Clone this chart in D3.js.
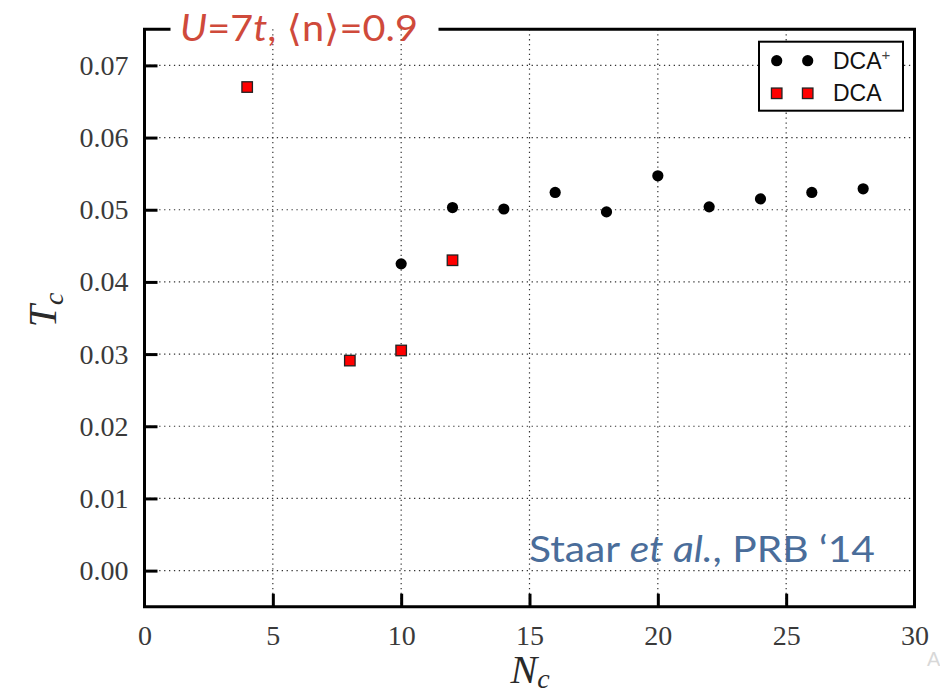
<!DOCTYPE html>
<html>
<head>
<meta charset="utf-8">
<script src="https://cdn.jsdelivr.net/npm/d3@7"></script>
<style>
  html, body { margin: 0; padding: 0; background: #fff; }
  svg { display: block; }
</style>
</head>
<body>
<div id="chart"></div>
<script>
// ---- data ----
const dcaPlusN = [10, 12, 14, 16, 18, 20, 22, 24, 26, 28];
const dcaPlusTc = [0.0425, 0.0503, 0.0501, 0.0524, 0.0497, 0.0547, 0.0504, 0.0515, 0.0524, 0.0529];
const dcaN = [4, 8, 10, 12];
const dcaTc = [0.0670, 0.0291, 0.0305, 0.0430];
const xTicks = [0, 5, 10, 15, 20, 25, 30];
const yTicks = [0.00, 0.01, 0.02, 0.03, 0.04, 0.05, 0.06, 0.07];
const xGrid = [5, 10, 15, 20, 25];
const seriesNames = ["DCA", "DCA+"];

const W = 940, H = 693;
const svg = d3.select("#chart").append("svg").attr("width", W).attr("height", H);

const pLeft = 144.5, pRight = 914.5, pTop = 29.3, pBottom = 606.7;
const x = d3.scaleLinear().domain([0, 30]).range([pLeft, pRight]);
const y = d3.scaleLinear().domain([-0.005, 0.075]).range([pBottom, pTop]);

// grid
const grid = svg.append("g").attr("stroke", "#333").attr("stroke-width", 1.2)
  .attr("stroke-dasharray", "1.3,3.6");
grid.selectAll("line.h").data(yTicks).join("line").attr("class", "h")
  .attr("x1", pLeft).attr("x2", pRight).attr("y1", d => y(d)).attr("y2", d => y(d));
grid.selectAll("line.v").data(xGrid).join("line").attr("class", "v")
  .attr("y1", pTop).attr("y2", pBottom).attr("x1", d => x(d)).attr("x2", d => x(d));

// axes
const tickFont = "'Liberation Serif', 'DejaVu Serif', serif";
const xAxis = svg.append("g").attr("transform", `translate(0,${pBottom})`)
  .call(d3.axisBottom(x).tickValues(xTicks).tickFormat(d3.format("d")).tickSize(-13).tickPadding(18));
const yAxis = svg.append("g").attr("transform", `translate(${pLeft},0)`)
  .call(d3.axisLeft(y).tickValues(yTicks).tickFormat(d3.format(".2f")).tickSize(-13).tickPadding(16));
[xAxis, yAxis].forEach(a => {
  a.select(".domain").remove();
  a.selectAll(".tick line").attr("stroke", "#000").attr("stroke-width", 3);
  a.selectAll(".tick text").attr("font-family", tickFont).attr("font-size", 28).attr("fill", "#3a3a3a");
});
xAxis.selectAll(".tick").filter(d => d === 0 || d === 30).select("line").remove();

// frame
const frame = svg.append("g").attr("stroke", "#000").attr("stroke-width", 3).attr("fill", "none").attr("stroke-linecap", "square");
frame.append("path").attr("d", `M169,${pTop} L${pLeft},${pTop} L${pLeft},${pBottom} L${pRight},${pBottom} L${pRight},${pTop} L440,${pTop}`);

// data points
svg.append("g").selectAll("circle").data(dcaPlusN).join("circle")
  .attr("cx", d => x(d)).attr("cy", (d, i) => y(dcaPlusTc[i])).attr("r", 5.6).attr("fill", "#000");
const s = 10.5;
svg.append("g").selectAll("rect").data(dcaN).join("rect")
  .attr("x", d => x(d) - s / 2).attr("y", (d, i) => y(dcaTc[i]) - s / 2)
  .attr("width", s).attr("height", s).attr("fill", "#ff0000").attr("stroke", "#222").attr("stroke-width", 1.3);

// legend
const lg = svg.append("g");
lg.append("rect").attr("x", 759).attr("y", 41.7).attr("width", 144).attr("height", 69)
  .attr("fill", "#fff").attr("stroke", "#000").attr("stroke-width", 2);
[776.7, 807.7].forEach(cx => {
  lg.append("circle").attr("cx", cx).attr("cy", 60.7).attr("r", 5.6).attr("fill", "#000");
  lg.append("rect").attr("x", cx - s / 2).attr("y", 93.3 - s / 2).attr("width", s).attr("height", s)
    .attr("fill", "#ff0000").attr("stroke", "#222").attr("stroke-width", 1.3);
});
const t1 = lg.append("text").attr("x", 833).attr("y", 68.5).attr("font-family", "'Liberation Sans', Arial, sans-serif")
  .attr("font-size", 23).attr("fill", "#111");
t1.append("tspan").text("DCA");
t1.append("tspan").text("+").attr("font-size", 15).attr("dy", -9).attr("fill", "#444");
lg.append("text").attr("x", 833).attr("y", 101).attr("font-family", "'Liberation Sans', Arial, sans-serif")
  .attr("font-size", 23).attr("fill", "#111").text(seriesNames[0]);

// axis titles
const tt = svg.append("text").attr("transform", "translate(56,310) rotate(-90)").attr("text-anchor", "middle")
  .attr("font-family", tickFont).attr("font-style", "italic").attr("font-size", 40).attr("fill", "#2a2a2a");
tt.append("tspan").text("T");
tt.append("tspan").text("c").attr("font-size", 28).attr("dy", 7);
const nt = svg.append("text").attr("x", 530).attr("y", 683).attr("text-anchor", "middle")
  .attr("font-family", tickFont).attr("font-style", "italic").attr("font-size", 40).attr("fill", "#2a2a2a");
nt.append("tspan").text("N");
nt.append("tspan").text("c").attr("font-size", 28).attr("dy", 5);

// title
const sansFont = "Lato, 'Open Sans', 'DejaVu Sans', sans-serif";
const title = svg.append("text").attr("x", 180).attr("y", 41).attr("font-family", sansFont)
  .attr("font-size", 37).attr("fill", "#cf4a3b").attr("textLength", 238).attr("lengthAdjust", "spacingAndGlyphs");
title.append("tspan").text("U").attr("font-style", "italic");
title.append("tspan").text("=7");
title.append("tspan").text("t").attr("font-style", "italic");
title.append("tspan").text(", \u27E8n\u27E9=0.9");

// citation
const cit = svg.append("text").attr("x", 529).attr("y", 562).attr("font-family", sansFont)
  .attr("font-size", 37).attr("fill", "#4a6d9a").attr("textLength", 346).attr("lengthAdjust", "spacingAndGlyphs");
cit.append("tspan").text("Staar ");
cit.append("tspan").text("et al.").attr("font-style", "italic");
cit.append("tspan").text(", PRB \u201814");

// faint artifact letter
svg.append("text").attr("x", 927).attr("y", 666).attr("font-family", "'Liberation Sans', sans-serif")
  .attr("font-size", 20).attr("fill", "#d8d8d8").text("A");
</script>
</body>
</html>
